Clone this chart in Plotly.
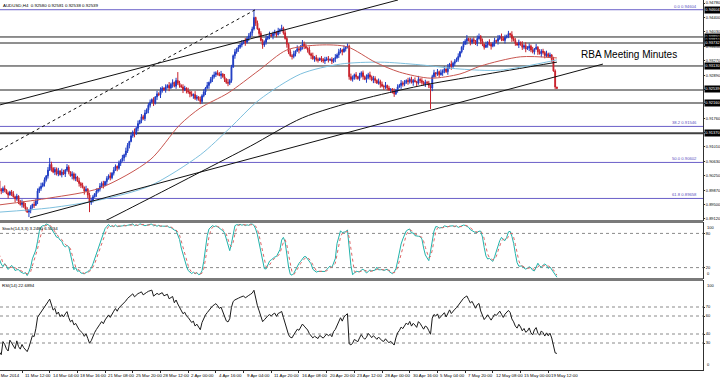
import numpy as np
import pandas as pd
import plotly.graph_objects as go

# ---------------- data ----------------
header = "AUDUSD,H4  0.92580 0.92581 0.92538 0.92539"
last_bar = (0.92580, 0.92581, 0.92538, 0.92539)   # O H L C of the forming bar
first_open = 9012

close_pips = [
    9010, 9005, 9012, 8990, 8985, 8992, 8988, 8980, 8975, 8983,
    8978, 8970, 8965, 8972, 8958, 8950, 8955, 8945, 8938, 8930,
    8935, 8942, 8950, 8948, 8960, 8985, 8992, 8998, 9005, 9015,
    9025, 9040, 9055, 9045, 9035, 9042, 9030, 9038, 9028, 9035,
    9030, 9040, 9048, 9035, 9025, 9030, 9018, 9022, 9012, 9005,
    9000, 8995, 8985, 8990, 8975, 8955, 8960, 8970, 8978, 8985,
    8990, 8998, 9005, 9000, 9010, 9018, 9025, 9020, 9032, 9040,
    9050, 9045, 9058, 9065, 9072, 9080, 9090, 9105, 9115, 9130,
    9140, 9135, 9150, 9162, 9170, 9180, 9175, 9190, 9198, 9210,
    9218, 9225, 9215, 9232, 9240, 9238, 9248, 9255, 9250, 9258,
    9262, 9255, 9265, 9270, 9260, 9275, 9268, 9262, 9258, 9250,
    9255, 9248, 9245, 9240, 9235, 9238, 9228, 9232, 9225, 9220,
    9235, 9245, 9255, 9262, 9270, 9278, 9285, 9290, 9295, 9292,
    9288, 9292, 9285, 9278, 9270, 9268, 9275, 9310, 9340, 9350,
    9358, 9362, 9368, 9372, 9378, 9375, 9385, 9392, 9400, 9410,
    9440, 9425, 9410, 9398, 9380, 9368, 9375, 9385, 9390, 9395,
    9392, 9398, 9402, 9395, 9405, 9408, 9412, 9400, 9385, 9370,
    9350, 9340, 9338, 9345, 9352, 9358, 9355, 9362, 9370, 9365,
    9360, 9355, 9345, 9340, 9332, 9335, 9330, 9328, 9333, 9330,
    9326, 9329, 9332, 9328, 9330, 9325, 9332, 9335, 9342, 9350,
    9355, 9350, 9358, 9362, 9365, 9285, 9278, 9282, 9290, 9285,
    9280, 9288, 9295, 9285, 9278, 9282, 9290, 9284, 9276, 9280,
    9275, 9268, 9272, 9265, 9260, 9258, 9262, 9255, 9250, 9252,
    9245, 9240, 9250, 9258, 9262, 9268, 9265, 9270, 9275, 9272,
    9278, 9270, 9275, 9272, 9268, 9278, 9275, 9270, 9265, 9270,
    9268, 9262, 9255, 9285, 9295, 9292, 9298, 9290, 9295, 9300,
    9305, 9298, 9310, 9318, 9312, 9320, 9325, 9330, 9338, 9350,
    9362, 9370, 9378, 9385, 9380, 9375, 9382, 9378, 9372, 9385,
    9390, 9378, 9370, 9362, 9368, 9375, 9370, 9365, 9372, 9380,
    9378, 9385, 9390, 9385, 9380, 9388, 9392, 9398, 9395, 9385,
    9380, 9372, 9368, 9375, 9370, 9362, 9366, 9358, 9360, 9365,
    9355, 9350, 9358, 9362, 9350, 9345, 9352, 9348, 9340, 9345,
    9338, 9342, 9330, 9300, 9258, 9254,
]
# upper / lower wick lengths in pips, one digit per bar
hi_wick = ("4627358243 5736248395 3628475936 2847365829 6385274938 4729368527 "
           "3857264938 5274839627 4938275846 7362849527 3948275637 6284739528 "
           "4739265847 5827394637 3649285736 8273645928 4562839475 3748295637 "
           "6293847526 4857362948 5392748637 2746395847 6385749263 3927485637 "
           "5748293647 4635827394 7283946582 3859274638 6472938547 2948573629 "
           "5637284957 4829375648 362742")
lo_wick = ("3742856392 6295738462 4837295638 5729384627 3846295738 7392846528 "
           "4658293746 2847396582 5938274639 6273849527 4829375638 3759284637 "
           "6482937564 2937485628 5846293758 4728395647 3967284539 6385729468 "
           "2749385627 5836274938 4927384657 3658294738 7249385627 4837296548 "
           "5392847637 2748395628 6385947263 4729385647 3856274938 5947283659 "
           "3628475938 6473829574 437263")
spike_high = {32: 9072, 106: 9297, 150: 9460, 166: 9420, 178: 9381, 204: 9372, 280: 9398, 297: 9405}
spike_low = {20: 8917, 55: 8930, 119: 9214, 155: 9358, 231: 9232, 252: 9200}

# moving averages read at a few bars: (bar, pips)
ma_red_bar = [3, 32, 61, 90, 107, 119, 135, 153, 169, 188, 204, 220, 234, 252, 269, 281, 304, 325]
ma_red_val = [8949, 8967, 8993, 9067, 9158, 9203, 9242, 9302, 9355, 9368, 9363, 9323, 9297, 9281, 9292, 9313, 9337, 9334]
ma_blue_bar = [3, 32, 61, 90, 119, 136, 153, 177, 200, 223, 246, 269, 292, 325]
ma_blue_val = [8930, 8941, 8962, 8999, 9080, 9150, 9224, 9292, 9318, 9323, 9316, 9305, 9302, 9329]
ma_black_bar = [55, 64, 90, 119, 148, 178, 211, 246, 281, 325]
ma_black_val = [8888, 8907, 8967, 9035, 9103, 9177, 9224, 9261, 9289, 9323]

# trend lines: (bar0, pips0, bar1, pips1, dash)
trend_lines = [
    (3.3, 9093, 150.6, 9460, "dot"),
    (3.3, 9211, 233.2, 9486, "solid"),
    (20.6, 8915, 351.6, 9318, "solid"),
]
# horizontal lines: (price, width, colour)
h_lines = [(0.93890, 1, "#202020"), (0.93732, 1, "#202020"), (0.93130, 1, "#202020"),
           (0.92500, 1, "#202020"), (0.92160, 2, "#8c8c8c"), (0.91370, 2, "#404040")]
box_labels = [(0.94604, "0.94604"), (0.93890, "0.93890"), (0.93810, "0.93810"), (0.93732, "0.93732"),
              (0.93130, "0.93130"), (0.92539, "0.92539"), (0.92160, "0.92160"), (0.91370, "0.91370")]
fib_levels = [(0.94604, "0.0 0.94604"), (0.91546, "38.2 0.91546"),
              (0.90602, "50.0 0.90602"), (0.89658, "61.8 0.89658")]
price_ticks = [0.89120, 0.89500, 0.89870, 0.90250, 0.90630, 0.91010, 0.91380, 0.91760,
               0.92140, 0.92510, 0.92890, 0.93270, 0.93650, 0.94030, 0.94400, 0.94780]
time_label_bars = [0, 16, 32, 48, 64, 80, 96, 112, 128, 144, 160, 176, 192, 208, 224, 240, 256, 272, 288, 304, 320]
time_labels = ["7 Mar 2014", "11 Mar 12:00", "14 Mar 04:00", "18 Mar 16:00", "21 Mar 08:00", "25 Mar 20:00",
               "28 Mar 12:00", "2 Apr 00:00", "4 Apr 16:00", "9 Apr 04:00", "11 Apr 20:00",
               "16 Apr 08:00", "20 Apr 20:00", "23 Apr 12:00", "28 Apr 00:00", "30 Apr 16:00",
               "5 May 04:00", "7 May 20:00", "12 May 08:00", "15 May 00:00", "19 May 12:00"]
stoch_text = "Stoch(14,3,3) 3.2480 6.5034"
rsi_text = "RSI(14) 22.6894"
event_text = "RBA Meeting Minutes"
event_bar, event_price = 338.0, 0.9344

# ---------------- build OHLC ----------------
n = len(close_pips)
idx = np.arange(n)
c = np.array(close_pips, dtype=float) / 1e4
o = np.r_[first_open / 1e4, c[:-1]]
hw = np.array([int(ch) for ch in hi_wick.replace(" ", "")][:n]) / 1e4
lw = np.array([int(ch) for ch in lo_wick.replace(" ", "")][:n]) / 1e4
h = np.maximum(o, c) + hw
l = np.minimum(o, c) - lw
for k, v in spike_high.items():
    h[k] = max(v / 1e4, h[k])
for k, v in spike_low.items():
    l[k] = min(v / 1e4, l[k])
o[-1], h[-1], l[-1], c[-1] = last_bar

# indicators
cs, hs, ls = pd.Series(c), pd.Series(h), pd.Series(l)
ll = ls.rolling(14, min_periods=1).min()
hh = hs.rolling(14, min_periods=1).max()
st_main = 100 * (cs - ll).rolling(3, min_periods=1).sum() / (hh - ll).rolling(3, min_periods=1).sum()
st_sig = st_main.rolling(3, min_periods=1).mean()
d = cs.diff().fillna(0)
up = d.clip(lower=0).ewm(alpha=1 / 14, adjust=True).mean()
dn = (-d).clip(lower=0).ewm(alpha=1 / 14, adjust=True).mean()
rsi = (100 - 100 / (1 + up / dn)).fillna(50)

# ---------------- figure ----------------
PH = 370.0
def dom(top, bot):
    return [1 - bot / PH, 1 - top / PH]

XMIN, XMAX = 3.29, 409.4
FONT = "Liberation Sans, Arial, sans-serif"
fig = go.Figure()

fig.add_trace(go.Candlestick(
    x=idx, open=o, high=h, low=l, close=c, xaxis="x", yaxis="y",
    increasing=dict(line=dict(color="#1f3cc4", width=1), fillcolor="#1f3cc4"),
    decreasing=dict(line=dict(color="#c8202a", width=1), fillcolor="#c8202a"),
    whiskerwidth=0, showlegend=False, hoverinfo="skip"))

for bars, vals, col in [(ma_black_bar, ma_black_val, "#111111"),
                        (ma_blue_bar, ma_blue_val, "#7ec0de"),
                        (ma_red_bar, ma_red_val, "#c8554f")]:
    fig.add_trace(go.Scatter(x=bars, y=np.array(vals) / 1e4, mode="lines",
                             line=dict(color=col, width=1, shape="spline", smoothing=0.8),
                             xaxis="x", yaxis="y", showlegend=False, hoverinfo="skip"))

for b0, p0, b1, p1, dash in trend_lines:
    fig.add_trace(go.Scatter(x=[b0, b1], y=[p0 / 1e4, p1 / 1e4], mode="lines",
                             line=dict(color="#111111", width=1, dash=dash),
                             xaxis="x", yaxis="y", showlegend=False, hoverinfo="skip"))

fig.add_trace(go.Scatter(x=idx, y=st_main, mode="lines", line=dict(color="#20b2aa", width=1),
                         xaxis="x2", yaxis="y2", showlegend=False, hoverinfo="skip"))
fig.add_trace(go.Scatter(x=idx, y=st_sig, mode="lines", line=dict(color="#d66", width=1, dash="dot"),
                         xaxis="x2", yaxis="y2", showlegend=False, hoverinfo="skip"))
fig.add_trace(go.Scatter(x=idx, y=rsi, mode="lines", line=dict(color="#1a1a1a", width=1),
                         xaxis="x3", yaxis="y3", showlegend=False, hoverinfo="skip"))

shapes = []
for p, w, col in h_lines:
    shapes.append(dict(type="line", xref="x domain", yref="y", x0=0, x1=1, y0=p, y1=p,
                       line=dict(color=col, width=w), layer="below"))
for p, _ in fib_levels:
    shapes.append(dict(type="line", xref="x domain", yref="y", x0=0, x1=1, y0=p, y1=p,
                       line=dict(color="#6a5fc8", width=1), layer="below"))
for lv in [80, 20]:
    shapes.append(dict(type="line", xref="x2 domain", yref="y2", x0=0, x1=1, y0=lv, y1=lv,
                       line=dict(color="#8a8a8a", width=1, dash="dot"), layer="below"))
for lv in [70, 60, 40, 30]:
    shapes.append(dict(type="line", xref="x3 domain", yref="y3", x0=0, x1=1, y0=lv, y1=lv,
                       line=dict(color="#8a8a8a", width=1, dash="dot"), layer="below"))
for ypix in [221.5, 279.5]:
    shapes.append(dict(type="line", xref="paper", yref="paper", x0=0, x1=1,
                       y0=1 - ypix / PH, y1=1 - ypix / PH, line=dict(color="#7a7a7a", width=3)))

FS = 4.4
RS = 4.0   # right-hand price-scale text
small = dict(family=FONT, size=FS, color="#000000")
ann = [
    dict(text=header, xref="paper", yref="paper", x=0.002, y=1 - 1 / PH, xanchor="left", yanchor="top",
         showarrow=False, font=small),
    dict(text=stoch_text, xref="paper", yref="paper", x=0.0, y=1 - 224 / PH, xanchor="left", yanchor="top",
         showarrow=False, font=small),
    dict(text=rsi_text, xref="paper", yref="paper", x=0.0, y=1 - 281 / PH, xanchor="left", yanchor="top",
         showarrow=False, font=small),
    dict(text=event_text, xref="x", yref="y", x=event_bar, y=event_price, xanchor="left", yanchor="middle",
         showarrow=False, font=dict(family=FONT, size=10, color="#000000")),
]
for b, t in zip(time_label_bars, time_labels):
    ann.append(dict(text=t, xref="paper", yref="paper", x=(b - XMIN) / (XMAX - XMIN), y=-1 / PH,
                    xanchor="left", yanchor="top", xshift=1, showarrow=False, font=small))
for p, t in fib_levels:
    ann.append(dict(text=t, xref="paper", yref="y", x=0.995, y=p, xanchor="right", yanchor="bottom",
                    yshift=-1, showarrow=False, font=dict(family=FONT, size=4.2, color="#5a4fc0")))
for p, t in box_labels:
    ann.append(dict(text=t, xref="paper", yref="y", x=1.0, y=p, xanchor="left", yanchor="middle",
                    xshift=1, showarrow=False, bgcolor="#000000", borderpad=0.3,
                    font=dict(family=FONT, size=RS, color="#ffffff")))
for v, t, ax in [(100, "100", "y2"), (0, "0", "y2"), (100, "100", "y3"), (0, "0", "y3")]:
    ann.append(dict(text=t, xref="paper", yref=ax, x=1.0, y=v, xanchor="left",
                    yanchor="top" if v == 100 else "bottom", xshift=2, yshift=-1 if v == 100 else 1,
                    showarrow=False, font=dict(family=FONT, size=RS, color="#000000")))

yax_common = dict(side="right", showgrid=False, zeroline=False, showline=True, linecolor="#303030",
                  linewidth=1, ticks="outside", ticklen=1, tickcolor="#303030",
                  tickfont=dict(family=FONT, size=RS, color="#000000"), fixedrange=True)
xax_common = dict(range=[XMIN, XMAX], showgrid=False, zeroline=False, fixedrange=True)

fig.update_layout(
    width=720, height=378, margin=dict(l=0, r=17, t=0, b=8),
    paper_bgcolor="#ffffff", plot_bgcolor="#ffffff", showlegend=False,
    xaxis=dict(**xax_common, domain=[0, 1], anchor="y", showticklabels=False,
               rangeslider=dict(visible=False)),
    xaxis2=dict(**xax_common, domain=[0, 1], anchor="y2", showticklabels=False),
    xaxis3=dict(**xax_common, domain=[0, 1], anchor="y3", showline=True, linecolor="#303030",
                tickvals=time_label_bars, showticklabels=False,
                ticks="outside", ticklen=2, tickcolor="#303030"),
    yaxis=dict(**yax_common, domain=dom(0, 221), anchor="x", range=[0.89067, 0.94859],
               tickvals=price_ticks, ticktext=[f"{v:.5f}" for v in price_ticks]),
    yaxis2=dict(**yax_common, domain=dom(222, 279), anchor="x2", range=[0, 100],
                tickvals=[80, 20], ticktext=["80", "20"]),
    yaxis3=dict(**yax_common, domain=dom(280, 370), anchor="x3", range=[0, 100],
                tickvals=[70, 60, 40, 30], ticktext=["70", "60", "40", "30"]),
    shapes=shapes, annotations=ann,
)
for ax in ["xaxis", "xaxis2", "xaxis3", "yaxis", "yaxis2", "yaxis3"]:
    fig.layout[ax].automargin = False

fig.write_html("out.html", config={"displayModeBar": False},
               post_script="document.body.style.margin='0';document.body.style.overflow='hidden';")
